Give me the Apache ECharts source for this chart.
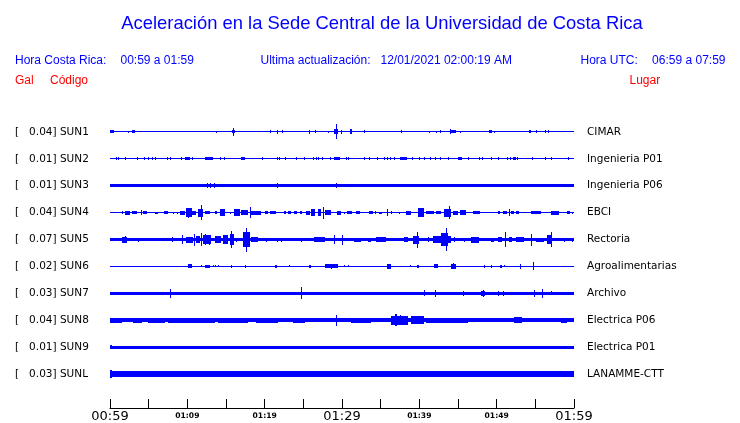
<!DOCTYPE html>
<html>
<head>
<meta charset="utf-8">
<script src="https://cdn.jsdelivr.net/npm/echarts@6/dist/echarts.min.js"></script>
<style>html,body{margin:0;padding:0;background:#fff;}#c{width:740px;height:423px;}</style>
</head>
<body>
<div id="c"></div>
<script>
// ---- data ----
const codes = ['SUN1','SUN2','SUN3','SUN4','SUN5','SUN6','SUN7','SUN8','SUN9','SUNL'];
const places = ['CIMAR','Ingenieria P01','Ingenieria P06','EBCI','Rectoria','Agroalimentarias','Archivo','Electrica P06','Electrica P01','LANAMME-CTT'];
const galMax = ['0.04','0.01','0.01','0.04','0.07','0.02','0.03','0.04','0.01','0.03'];
// x axis: minutes after 00:59 (Costa Rica time)
const tickLabels = ['00:59','01:09','01:19','01:29','01:39','01:49','01:59'];
const bigTicks = ['00:59','01:29','01:59'];
// background noise half-amplitude per trace (units: 1/100 of trace spacing)
const baseAmp = [1.9, 1.9, 5.6, 1.9, 6.2, 1.9, 6.2, 7.4, 6.2, 11.5];
// bursts: [start minute, end minute, half-amplitude]
const ev_SUN1 = [[0,0.56,4.9],[2.37,2.45,3.7],[2.8,3.23,4.9],[13.72,13.8,3.7],[15.8,16.1,6],[15.91,16.0,14.8],[20.73,20.85,4.9],[21.59,21.67,7.4],[22.24,22.3,4.9],[25.72,25.9,7.4],[26.54,26.6,4.9],[28.17,28.23,3.7],[29.0,29.5,9],[29.2,29.35,27],[29.81,29.9,7.4],[31.0,31.3,9.9],[32.9,32.96,4.9],[37.63,37.7,4.9],[41.2,41.26,3.7],[42.15,42.2,3.7],[42.62,42.7,4.9],[44.0,44.1,9.9],[44.1,44.73,6.2],[45.29,45.35,3.7],[49.03,49.37,6.2],[49.68,49.74,3.7],[54.19,54.45,6.2],[55.14,55.2,4.9],[56.22,56.28,6.2],[56.65,56.71,6.2],[58.49,58.55,2.5]];
const ev_SUN2 = [[0.73,0.79,4.9],[1.08,1.14,4.9],[1.94,2.0,4.9],[3.44,3.52,6.2],[4.43,4.49,4.9],[4.95,5.01,4.9],[5.38,5.44,4.9],[5.81,5.87,4.9],[7.31,7.37,4.9],[7.78,7.84,4.9],[9.16,9.22,4.9],[9.68,10.32,6.2],[10.62,10.68,4.9],[12.26,13.33,6.2],[14.28,14.34,4.9],[14.75,14.81,4.9],[16.99,17.51,6.2],[19.7,19.78,4.9],[21.59,21.65,6.2],[21.85,21.91,4.9],[22.67,22.73,4.9],[24.09,24.15,4.9],[25.03,25.09,4.9],[26.24,26.3,4.9],[26.58,26.64,4.9],[26.88,26.94,4.9],[27.4,27.46,4.9],[28.47,28.53,4.9],[29.03,29.68,6.2],[30.54,30.6,4.9],[30.75,30.81,4.9],[32.9,32.96,4.9],[33.55,33.61,4.9],[34.54,34.6,4.9],[35.48,35.54,4.9],[35.83,35.89,4.9],[36.22,36.28,4.9],[36.69,36.75,4.9],[37.55,38.41,6.2],[39.01,39.07,4.9],[40.0,40.06,4.9],[40.65,40.71,4.9],[41.42,41.48,4.9],[42.06,42.12,4.9],[42.71,42.77,4.9],[43.66,43.72,4.9],[45.03,45.46,6.2],[46.24,46.3,4.9],[47.66,47.72,4.9],[48.09,48.15,4.9],[49.33,49.39,4.9],[50.19,50.25,4.9],[51.31,51.37,4.9],[51.74,51.8,4.9],[52.17,52.47,6.2],[52.69,52.75,4.9],[54.62,54.68,4.9],[56.22,56.28,6.2],[56.99,57.05,4.9],[59.23,59.29,4.9]];
const ev_SUN3 = [[12.56,12.64,8.6],[12.9,12.98,8.6],[13.42,13.5,8.6],[21.59,21.67,8.6],[29.25,29.33,8.6]];
const ev_SUN4 = [[1.5,1.56,4.9],[1.94,2.58,7.4],[2.8,3.44,4.9],[3.96,4.05,9.9],[4.22,4.73,4.9],[5.81,6.24,3.7],[6.97,7.53,4.9],[8.17,8.23,3.7],[8.6,8.66,3.7],[9.03,9.68,7.4],[9.89,10.54,17.2],[10.1,10.2,19],[10.62,11.18,7.4],[11.4,12.04,14.8],[11.83,11.95,27],[12.26,12.9,4.9],[13.55,13.89,4.9],[14.19,14.84,12.3],[15.48,15.54,3.7],[16.04,16.77,12.3],[16.99,17.85,8.6],[18.15,18.27,21],[18.28,19.57,7.4],[20.0,20.43,4.9],[20.65,21.51,6.2],[22.45,22.8,4.9],[23.01,23.35,4.9],[23.78,24.22,4.9],[24.52,24.82,4.9],[25.38,25.81,7.4],[26.02,26.54,12.3],[26.88,27.31,12.3],[27.53,27.65,22],[27.74,28.6,8.6],[29.33,29.89,7.4],[30.32,30.38,3.7],[30.67,31.27,4.9],[31.83,32.39,4.9],[33.55,33.98,4.9],[34.28,34.34,6.2],[34.84,35.14,3.7],[35.83,35.95,13.5],[36.34,36.4,4.9],[37.42,37.48,3.7],[38.28,38.92,7.4],[39.78,40.65,16],[40.86,41.94,6.2],[42.15,42.8,6.2],[43.23,44.09,14.8],[43.87,43.99,24.6],[44.3,44.95,7.4],[45.29,46.02,9.9],[46.88,47.87,4.9],[50.11,50.45,4.9],[50.88,51.31,4.9],[51.61,51.7,12.3],[51.83,52.26,6.2],[52.47,52.9,4.9],[54.41,55.7,4.9],[56.99,58.06,7.4],[59.05,59.48,4.9],[59.78,59.84,3.7]];
const ev_SUN5 = [[1.5,2.15,11],[1.9,2.0,12.3],[3.66,3.72,7.4],[7.96,8.02,9.9],[9.25,9.31,17.2],[9.89,10.75,11],[10.88,10.98,22],[11.18,11.61,12.3],[11.74,11.84,24.6],[12.04,13.12,17.2],[12.26,12.36,21],[12.77,12.87,18.5],[13.55,14.41,12.3],[14.62,15.27,17.2],[15.48,16.04,19.7],[15.7,15.8,30.8],[16.34,16.4,7.4],[17.2,18.06,27],[17.55,17.67,44],[18.28,19.14,9.9],[20.22,20.28,7.4],[21.59,21.65,7.4],[22.15,22.21,7.4],[24.73,24.79,7.4],[26.37,27.74,9.9],[29.03,29.13,16],[29.98,30.08,18.5],[31.61,32.47,7.4],[33.33,33.76,7.4],[34.41,35.7,8.6],[38.06,38.49,9.9],[39.14,40.0,14.8],[39.66,39.76,29.5],[41.08,41.14,9.9],[41.72,44.09,12.3],[42.8,43.66,24.6],[43.4,43.52,43],[44.43,44.49,9.9],[45.81,45.87,7.4],[46.67,47.74,11],[49.25,49.68,7.4],[50.11,50.75,9.9],[51.05,51.15,27],[51.61,52.04,9.9],[52.47,53.55,8.6],[54.41,54.51,22],[55.05,56.13,7.4],[56.56,57.08,17.2],[56.99,57.09,27],[58.71,58.77,7.4],[59.78,59.84,7.4]];
const ev_SUN6 = [[10.11,10.54,7.4],[11.83,11.89,3.7],[12.26,12.9,6.2],[13.33,13.39,3.7],[13.55,13.61,3.7],[13.98,14.04,3.7],[15.61,15.67,4.9],[17.42,17.5,6.2],[21.38,21.64,6.2],[23.14,23.2,3.7],[25.72,26.02,6.2],[27.74,29.46,7.4],[28.52,28.62,8.6],[30.32,30.38,3.7],[30.75,30.81,3.7],[35.83,36.34,9.9],[38.84,38.9,3.7],[39.66,39.92,6.2],[41.94,42.37,7.4],[44.09,44.73,9.9],[44.3,44.38,11],[48.31,48.37,4.9],[49.25,49.31,4.9],[50.45,50.7,6.2],[50.97,51.03,3.7],[53.03,53.2,8.6],[54.71,54.81,14.8]];
const ev_SUN7 = [[7.74,7.84,17.2],[24.65,24.75,22],[40.65,40.75,11],[42.06,42.16,12.3],[45.68,45.76,8.6],[48.0,48.5,8.6],[48.17,48.27,13.5],[50.11,50.17,8.6],[50.84,50.9,8.6],[54.84,54.94,12.3],[55.87,55.97,16],[57.08,57.14,7.4]];
const ev_SUN8 = [[0,1.5,9.9],[3.01,4.09,9.9],[4.95,7.1,8.6],[7.53,13.55,9.9],[14.0,17.85,9.9],[18.92,21.72,9.9],[23.66,25.16,9.9],[29.16,29.26,19.7],[31.18,33.76,9.9],[36.3,38.49,16],[36.9,37.05,22],[37.5,37.6,19],[38.92,40.65,14.8],[40.86,46.24,9.9],[52.26,53.33,11],[58.28,59.14,9.9]];
const ev_SUN9 = [[0,0.3,7.4]];
const ev_SUNL = [[0,0.3,14.8]];
const events = [ev_SUN1, ev_SUN2, ev_SUN3, ev_SUN4, ev_SUN5, ev_SUN6, ev_SUN7, ev_SUN8, ev_SUN9, ev_SUNL];

// ---- build ----
const BLUE = '#0000ff', RED = '#ff0000';
const traceData = [];
codes.forEach((c, r) => {
  traceData.push([0, 60, baseAmp[r], r]);
  events[r].forEach(e => traceData.push([e[0], e[1], e[2], r]));
});

const chart = echarts.init(document.getElementById('c'));
const font = 'Liberation Sans';
function txt(text, x, y, size, color, align) {
  return { type: 'text', x: x, y: y, style: { text: text, fontSize: size, fontFamily: font, fill: color, align: align || 'left', verticalAlign: 'middle' } };
}
chart.setOption({
  animation: false,
  backgroundColor: '#fff',
  graphic: [
    txt('Aceleración en la Sede Central de la Universidad de Costa Rica', 382, 23.5, 18.4, BLUE, 'center'),
    txt('Hora Costa Rica:', 15, 61, 12, BLUE),
    txt('00:59 a 01:59', 120.5, 61, 12, BLUE),
    txt('Ultima actualización:', 260.5, 61, 12, BLUE),
    txt('12/01/2021 02:00:19 AM', 380.5, 61, 12, BLUE),
    txt('Hora UTC:', 580.5, 61, 12, BLUE),
    txt('06:59 a 07:59', 725.5, 61, 12, BLUE, 'right'),
    txt('Gal', 15, 81, 12, RED),
    txt('Código', 50, 81, 12, RED),
    txt('Lugar', 629.5, 81, 12, RED)
  ],
  grid: { left: 110, right: 166, top: 118.5, bottom: 34.5 },
  xAxis: {
    type: 'value', min: 0, max: 60, interval: 5, offset: 20.5,
    axisLine: { show: true, onZero: false, lineStyle: { color: '#000', width: 1 } },
    axisTick: { show: true, inside: true, length: 9, lineStyle: { color: '#000', width: 1 } },
    splitLine: { show: false },
    axisLabel: {
      margin: 2, showMinLabel: true, showMaxLabel: true,
      formatter: function (v) {
        if (v % 10 !== 0) return '';
        const t = tickLabels[v / 10];
        return bigTicks.indexOf(t) >= 0 ? '{big|' + t + '}' : '{small|' + t + '}';
      },
      rich: {
        big: { fontSize: 13, fontFamily: 'DejaVu Sans', color: '#000' },
        small: { fontSize: 7.6, fontWeight: 'bold', fontFamily: 'DejaVu Sans', color: '#000', padding: [2, 0, 0, 0] }
      }
    }
  },
  yAxis: [
    {
      type: 'category', data: codes, inverse: true, position: 'left',
      axisLine: { show: false }, axisTick: { show: false }, splitLine: { show: false },
      axisLabel: {
        margin: 95, align: 'left', fontSize: 10.5, fontFamily: 'DejaVu Sans', color: '#000',
        formatter: function (v, i) { return '[   ' + galMax[i] + '] ' + v; }
      }
    },
    {
      type: 'category', data: places, inverse: true, position: 'right',
      axisLine: { show: false }, axisTick: { show: false }, splitLine: { show: false },
      axisLabel: { margin: 13, align: 'left', fontSize: 10.5, fontFamily: 'DejaVu Sans', color: '#000' }
    }
  ],
  series: [{
    type: 'custom',
    xAxisIndex: 0, yAxisIndex: 0,
    data: traceData,
    encode: { x: [0, 1], y: 3 },
    renderItem: function (params, api) {
      const s = api.value(0), e = api.value(1), a = api.value(2), r = api.value(3);
      const p1 = api.coord([s, r]);
      const p2 = api.coord([e, r]);
      const band = api.size([0, 1])[1];
      const h = Math.max(1, Math.round(2 * a / 100 * band));
      const x0 = Math.round(p1[0]);
      const w = Math.max(1, Math.round(p2[0]) - x0);
      const y0 = Math.round(p1[1] - h / 2);
      return { type: 'rect', shape: { x: x0, y: y0, width: w, height: h }, style: { fill: BLUE } };
    }
  }]
});
</script>
</body>
</html>
